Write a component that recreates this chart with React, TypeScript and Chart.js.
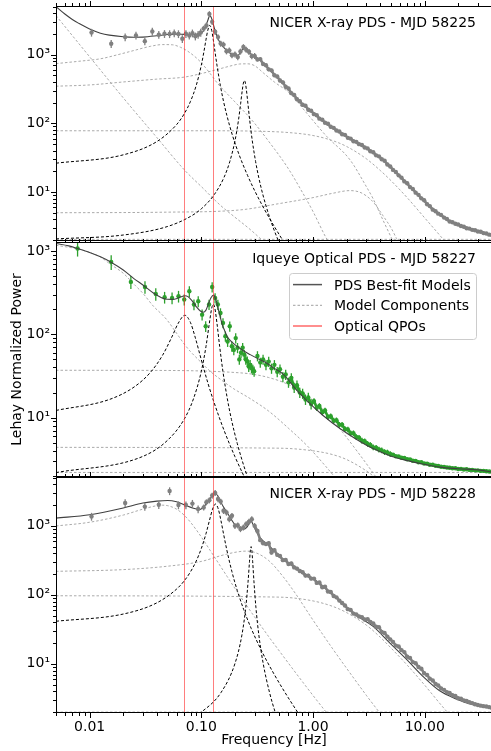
import React, { useEffect, useRef } from 'react';
import { Chart, registerables } from 'chart.js';

Chart.register(...registerables);

type Pt = [number, number];

const FONT = "'DejaVu Sans', Verdana, sans-serif";
const RED = 'rgba(255, 40, 40, 0.6)';
const MODEL_COLOR = '#404040';
const COMP_COLOR = '#a0a0a0';
const XRAY_COLOR = '#808080';
const OPT_COLOR = '#2ca02c';

// ---------- axes ----------
const X_MIN = 0.005;
const X_MAX = 40;
const X_MAJOR = [0.01, 0.1, 1, 10];
const X_TICK_LABELS = ['0.01', '0.10', '1.00', '10.00'];
const Y_MAJOR = [10, 100, 1000];
const Y_TICK_LABELS = ['10¹', '10²', '10³'];
const QPO_FREQS = [0.0697, 0.1275];
const LEGEND_LABELS = ['PDS Best-fit Models', 'Model Components', 'Optical QPOs'];

// ---------- shared high-frequency binning ----------
const HI_FREQ = [0.105,0.111,0.118,0.125,0.133,0.141,0.149,0.158,0.168,0.178,0.188,0.2,0.212,0.224,0.238,0.252,0.267,0.283,0.3,0.318,0.337,0.357,0.379,0.401,0.425,0.451,0.478,0.506,0.537,0.569,0.603,0.639,0.678,0.718,0.761,0.807,0.856,0.907,0.961,1.02,1.08,1.14,1.21,1.28,1.36,1.44,1.53,1.62,1.72,1.82,1.93,2.05,2.17,2.3,2.44,2.58,2.74,2.9,3.08,3.26,3.46,3.67,3.89,4.12,4.37,4.63,4.91,5.2,5.51,5.84,6.19,6.57,6.96,7.38,7.82,8.29,8.79,9.32,9.88,10.5,11.1,11.8,12.5,13.2,14.0,14.9,15.8,16.7,17.7,18.8,19.9,21.1,22.4,23.7,25.1,26.6,28.2,29.9,31.7,33.6,35.6,37.8,40.0];
const XR_HI_ERR = [0.1,0.1,0.1,0.1,0.1,0.1,0.1,0.1,0.1,0.1,0.1,0.1,0.1,0.1,0.1,0.1,0.1,0.1,0.1,
  0.06,0.06,0.06,0.06,0.06,0.06,0.06,0.06,0.06,0.06,0.06,0.06,0.06,0.06,0.06,0.06,0.06,0.06,0.06,0.06,
  0.045,0.045,0.045,0.045,0.045,0.045,0.045,0.045,0.045,0.045,0.045,0.045,0.045,0.045,0.045,0.045,0.045,0.045,0.045,0.045,0.045,0.045,0.045,0.045,0.045,0.045,0.045,0.045,
  0.03,0.03,0.03,0.03,0.03,0.03,0.03,0.03,0.03,0.03,0.03,0.03,0.03,0.03,0.03,0.03,0.03,0.03,0.03,0.03,0.03,0.03,0.03,0.03,0.03,0.03,0.03,0.03,0.03,0.03,0.03,0.03,0.03,0.03,0.03,0.03];

// ---------- panel 1: NICER MJD 58225 ----------
const P1_TITLE = 'NICER X-ray PDS - MJD 58225';
const P1_LOW_FREQ = [0.0104,0.0156,0.0208,0.026,0.0312,0.0364,0.0416,0.0468,0.052,0.0572,0.0624,0.0676,0.0728,0.078,0.0832,0.0884,0.0936,0.0988];
const P1_LOW_POW = [2100,1440,1800,1900,1570,2170,1950,2010,2000,2050,2000,1700,2010,1900,2050,1850,1950,2100];
const P1_LOW_ERR = [0.13,0.13,0.13,0.13,0.13,0.13,0.13,0.13,0.13,0.13,0.13,0.13,0.13,0.13,0.13,0.13,0.13,0.13];
const P1_HI_POW = [2400,2650,3900,3000,2150,1800,1450,1400,1120,1150,980,1010,920,1110,1290,1180,1100,950,960,850,860,730,700,610,590,500,480,420,395,340,322,275,258,224,210,186,180,158,153,136,131,117,113,102,98.5,89,86,78.5,76,69.5,68,61.5,60,55,53.8,49.8,48.5,44.6,43.2,39.2,37.9,34.2,33.1,30,28.6,25.2,23.6,21,19.6,17.5,16.2,14.3,13.4,11.8,11.1,9.8,9.1,8.1,7.6,6.65,6.25,5.55,5.25,4.85,4.65,4.25,4.05,3.72,3.64,3.46,3.38,3.21,3.12,2.97,2.94,2.82,2.78,2.67,2.64,2.53,2.5,2.4,2.37];
const P1_MODEL: Pt[] = [[0.005,5000],[0.006,3900],[0.007,3250],[0.008,2850],[0.01,2350],[0.0125,2050],[0.015,1920],[0.02,1820],[0.025,1790],[0.03,1800],[0.04,1880],[0.05,1960],[0.06,1990],[0.07,1970],[0.08,1950],[0.09,1960],[0.1,2050],[0.105,2250],[0.11,2650],[0.115,3250],[0.119,3700],[0.123,3450],[0.127,2900],[0.132,2300],[0.14,1750],[0.15,1420],[0.16,1250],[0.17,1150],[0.18,1060],[0.19,1000],[0.2,970],[0.21,960],[0.22,1030],[0.23,1150],[0.243,1290],[0.255,1150],[0.27,1050],[0.3,940],[0.34,820],[0.4,620],[0.5,430],[0.6,320],[0.77,205],[1,140],[1.15,118],[1.5,86],[2.14,60],[3,44],[4.24,29.4],[6,17],[8.4,9.7],[11.9,5.5],[16.8,3.75],[23.6,3],[30,2.7],[40,2.35]];
const P1_PL: Pt[] = [[0.005,3700],[0.01,930],[0.02,235],[0.04,62],[0.0705,21],[0.1,12],[0.15,6.3],[0.2,4.3],[0.274,2.85],[0.35,2.0],[0.45,1.4]];
const P1_BROAD_A: Pt[] = [[0.005,740],[0.008,800],[0.0125,870],[0.018,1000],[0.025,1150],[0.035,1320],[0.045,1400],[0.055,1390],[0.065,1280],[0.075,1130],[0.09,900],[0.1,760],[0.12,530],[0.14,380],[0.17,270],[0.2,205],[0.25,140],[0.3,100],[0.4,55],[0.6,22],[0.8,10],[1,5.2],[1.3,2.2],[1.5,1.5]];
const P1_BROAD_B: Pt[] = [[0.005,347],[0.01,362],[0.02,400],[0.04,440],[0.07,470],[0.1,530],[0.14,610],[0.18,680],[0.22,730],[0.26,735],[0.3,690],[0.36,540],[0.45,400],[0.62,273],[0.88,140],[1.32,65],[2.14,29.5],[3,12],[3.45,8],[4.2,4],[5,2.2],[6,1.2]];
const P1_BROAD_C: Pt[] = [[0.005,78],[0.1,78],[0.3,77],[0.6,73.5],[1,66.5],[1.5,56],[2,46],[3,30.5],[4,20.6],[5,14.6],[7,8.2],[10,4.2],[14,2.23],[20,1.1]];
const P1_BROAD_D: Pt[] = [[0.005,5],[0.05,5.1],[0.223,5.5],[0.5,6.8],[1,8.3],[1.5,9.6],[2.14,10.5],[2.6,10],[3,8.8],[3.5,7],[4.24,4.5],[5,3],[5.6,2.1],[7,1.1]];
const P1_CONST: Pt[] = [[0.005,2.05],[40,2.05]];
const P1_QPO1: Pt[] = [[0.005,26.3],[0.02,34.8],[0.04,54.3],[0.06,95.7],[0.07,136],[0.08,209],[0.09,356],[0.1,704],[0.105,1060],[0.11,1640],[0.114,2230],[0.119,2660],[0.124,2230],[0.128,1640],[0.133,1060],[0.138,704],[0.148,356],[0.158,209],[0.17,127],[0.19,66.8],[0.22,33.5],[0.26,17.3],[0.3,10.5],[0.35,6.46],[0.4,4.37],[0.5,2.38],[0.6,1.49]];
const P1_QPO2: Pt[] = [[0.005,2.08],[0.02,2.37],[0.05,3.16],[0.08,4.42],[0.1,5.71],[0.13,9.09],[0.16,16.5],[0.18,27.9],[0.2,55.6],[0.215,111],[0.225,196],[0.233,310],[0.238,386],[0.243,420],[0.248,386],[0.253,310],[0.261,196],[0.271,111],[0.286,55.6],[0.306,27.9],[0.326,16.5],[0.356,9.09],[0.4,4.76],[0.45,2.75],[0.5,1.79]];

// ---------- panel 2: Iqueye MJD 58227 ----------
const P2_TITLE = 'Iqueye Optical PDS - MJD 58227';
const P2_YTITLE = 'Lehay Normalized Power';
const P2_LOW_FREQ = [0.0078,0.0156,0.0234,0.0313,0.0391,0.0469,0.0547,0.0625,0.0703,0.0781,0.0859,0.0938,0.1016,0.1094,0.1172,0.125,0.1328,0.1406,0.1484,0.1563,0.1641,0.1719,0.1797,0.1875,0.1953,0.2031,0.2109,0.2188,0.2266,0.2344,0.2422,0.25,0.2578,0.2656,0.2734,0.2813,0.2891,0.2969];
const P2_LOW_POW = [1070,738,425,370,305,278,273,286,261,328,228,249,172,125,228,370,273,228,180,137,95,82,125,72,65,90,69,50,60,69,57,50,47.5,41,43,39.5,37.7,36];
const P2_LOW_ERR = [0.2,0.2,0.18,0.17,0.17,0.16,0.16,0.16,0.15,0.15,0.15,0.15,0.15,0.15,0.14,0.14,0.14,0.14,0.14,0.14,0.14,0.14,0.14,0.14,0.14,0.14,0.14,0.14,0.14,0.14,0.14,0.14,0.14,0.14,0.14,0.14,0.14,0.14];
const P2_HI_POW = [55,46,50,43,47,39,43,35.5,38,31,33,26.5,30,23,24.5,20,19.5,16.5,17.5,14.6,15.8,13.1,13.8,11.6,12.2,10.2,10.4,9.2,9.3,8.2,8.2,7.3,7.2,6.5,6.5,5.85,5.75,5.3,5.2,4.85,4.7,4.4,4.36,4.15,4.05,3.87,3.82,3.66,3.6,3.44,3.42,3.3,3.28,3.17,3.16,3.04,3.03,2.92,2.92,2.82,2.81,2.72,2.72,2.65,2.63,2.58,2.56,2.52,2.51,2.47,2.47,2.42,2.43,2.39,2.4,2.36,2.36,2.33,2.33,2.3,2.3,2.27,2.26,2.24];
const P2_HI_ERR = [0.14,0.14,0.14,0.14,0.14,0.14,0.14,0.14,0.14,0.14,0.14,0.14,0.14,0.14,0.14,0.14,0.14,0.14,0.14,0.14,
  0.08,0.08,0.08,0.08,0.08,0.08,0.08,0.08,0.08,0.08,0.08,0.08,0.08,0.08,0.08,0.08,0.08,0.08,0.08,0.08,0.08,0.08,0.08,0.08,0.08,0.08,0.08,0.08,
  0.035,0.035,0.035,0.035,0.035,0.035,0.035,0.035,0.035,0.035,0.035,0.035,0.035,0.035,0.035,0.035,0.035,0.035,0.035,0.035,0.035,0.035,0.035,0.035,0.035,0.035,0.035,0.035,0.035,0.035,0.035,0.035,0.035,0.035,0.035,0.035];
const P2_MODEL: Pt[] = [[0.005,1227],[0.0065,1150],[0.0078,1070],[0.01,960],[0.0125,850],[0.0154,738],[0.02,590],[0.0249,466],[0.03,390],[0.0375,310],[0.044,275],[0.0494,263],[0.055,262],[0.0607,269],[0.066,282],[0.071,290],[0.076,283],[0.083,250],[0.09,215],[0.098,190],[0.104,184],[0.11,195],[0.1155,230],[0.122,275],[0.129,295],[0.135,260],[0.1418,200],[0.148,160],[0.154,130],[0.162,110],[0.1696,95],[0.185,82],[0.208,72],[0.24,63],[0.274,57],[0.33,50],[0.386,45],[0.45,39],[0.543,33],[0.7,22],[0.88,16],[1.23,10.6],[1.74,7.4],[2.5,5.4],[3.45,4.25],[5,3.45],[6.84,3.07],[10,2.75],[13.5,2.55],[20,2.44],[30,2.36],[40,2.23]];
const P2_BROAD_A: Pt[] = [[0.005,1170],[0.008,1050],[0.01,960],[0.0125,845],[0.0154,690],[0.02,540],[0.0249,400],[0.03,310],[0.0375,215],[0.045,170],[0.05,145],[0.06,103],[0.0705,76],[0.08,62],[0.098,47],[0.12,36],[0.15,28.5],[0.194,22.3],[0.274,16.9],[0.4,12],[0.6,7.5],[0.9,4.5],[1.3,2.6],[1.7,1.7]];
const P2_BROAD_B: Pt[] = [[0.005,37],[0.05,36.8],[0.1,36.3],[0.2,34.8],[0.274,33.5],[0.4,30.3],[0.6,25],[0.88,18.4],[1.23,12.5],[1.7,7.6],[2.5,3.9],[3.6,2],[5,1.05]];
const P2_BROAD_C: Pt[] = [[0.005,4.4],[0.5,4.3],[1,4.0],[1.5,3.6],[2,3.14],[3,2.3],[3.45,2.0],[4,1.7],[5,1.25],[7,0.74]];
const P2_CONST: Pt[] = [[0.005,2.2],[40,2.2]];
const P2_QPO1: Pt[] = [[0.005,12.2],[0.015,16.5],[0.025,23.3],[0.035,34.9],[0.045,56.1],[0.055,95.5],[0.062,135],[0.0712,169],[0.08,138],[0.088,92.5],[0.1,49.3],[0.115,25.5],[0.13,15.2],[0.16,7.0],[0.2,3.4],[0.25,1.78]];
const P2_QPO2: Pt[] = [[0.005,2.19],[0.03,3.43],[0.05,5.37],[0.07,9.5],[0.085,16.8],[0.1,36],[0.11,71],[0.118,136],[0.124,207],[0.128,230],[0.132,207],[0.138,136],[0.146,71],[0.156,36],[0.171,16.8],[0.186,9.5],[0.21,4.87],[0.25,2.23],[0.3,1.13]];

// ---------- panel 3: NICER MJD 58228 ----------
const P3_TITLE = 'NICER X-ray PDS - MJD 58228';
const P3_LOW_FREQ = [0.0104,0.0208,0.0312,0.0416,0.052,0.0624,0.0728,0.0832,0.0936];
const P3_LOW_POW = [1365,2140,1900,2020,3200,2000,2000,2100,1750];
const P3_LOW_ERR = [0.13,0.13,0.13,0.13,0.13,0.13,0.13,0.13,0.13];
const P3_HI_POW = [1850,2200,2350,2750,3000,2450,2250,1650,1560,1250,1400,1000,1020,900,950,1060,1150,1250,1000,840,620,560,545,560,410,445,380,366,318,320,280,285,250,240,222,212,190,190,172,172,149,151,129,131,112,110,96,92,82.5,76,70,62,60.5,53.5,52,48.5,47.5,44,44.5,40.5,38.5,34.5,34,29,28,24.8,22.6,20.8,18.4,17.8,15.8,14.8,12.7,12.2,10.6,10.2,9.0,8.5,7.3,6.9,6.1,5.75,5.1,4.85,4.4,4.2,3.88,3.78,3.5,3.42,3.18,3.13,2.96,2.9,2.78,2.7,2.6,2.53,2.48,2.44,2.41,2.36,2.3];
const P3_MODEL: Pt[] = [[0.005,1295],[0.01,1445],[0.02,1810],[0.03,2140],[0.04,2280],[0.05,2330],[0.06,2230],[0.0712,2000],[0.085,1800],[0.098,1730],[0.105,1880],[0.112,2140],[0.12,2480],[0.127,2800],[0.134,2920],[0.141,2700],[0.148,2300],[0.157,1900],[0.17,1560],[0.185,1250],[0.2,1040],[0.22,950],[0.24,895],[0.255,950],[0.268,1080],[0.279,1170],[0.29,1050],[0.305,870],[0.335,675],[0.4,520],[0.54,330],[0.77,220],[1.08,158],[1.52,98],[2.46,50],[3.45,35],[4.88,20],[6.84,11.7],[9.62,6.6],[13.5,4.1],[19.1,3.1],[27,2.55],[40,2.3]];
const P3_BROAD_A: Pt[] = [[0.005,995],[0.01,1127],[0.02,1432],[0.03,1745],[0.04,1959],[0.045,1990],[0.05,1959],[0.06,1745],[0.07,1432],[0.08,1127],[0.09,878],[0.1,689],[0.12,440],[0.14,300],[0.17,185],[0.2,124],[0.25,73],[0.3,47.8],[0.4,24.9],[0.5,15.3],[0.7,7.4],[1,3.48],[1.3,2.03],[1.6,1.34]];
const P3_BROAD_B: Pt[] = [[0.005,219],[0.02,232],[0.05,260],[0.1,305],[0.15,370],[0.2,413],[0.25,430],[0.3,413],[0.4,315],[0.54,183],[0.7,103],[1,43],[1.5,16.5],[2,8.6],[3,3.5],[4,1.9]];
const P3_BROAD_C: Pt[] = [[0.005,97],[0.5,92.6],[1,81.6],[1.5,68],[2,55.2],[3,36.4],[4,24.3],[5,16.9],[7,9.5],[10,4.9],[14,2.54],[20,1.3],[30,0.57]];
const P3_CONST: Pt[] = [[0.005,2.0],[40,2.0]];
const P3_QPO1: Pt[] = [[0.005,41.4],[0.02,52.7],[0.04,76.6],[0.06,121],[0.07,158],[0.08,216],[0.09,309],[0.1,470],[0.11,767],[0.118,1180],[0.126,1741],[0.134,2070],[0.142,1741],[0.15,1180],[0.158,767],[0.168,470],[0.178,309],[0.188,216],[0.198,158],[0.21,115],[0.24,60.7],[0.28,32.4],[0.35,14.9],[0.45,7.0],[0.6,3.23],[0.75,1.85]];
const P3_QPO2: Pt[] = [[0.08,1.6],[0.1,2.0],[0.15,3.84],[0.2,10.1],[0.23,25.4],[0.25,66],[0.262,154],[0.27,307],[0.275,445],[0.279,500],[0.283,445],[0.288,307],[0.296,154],[0.308,66],[0.328,25.4],[0.358,10.1],[0.408,3.84],[0.458,2.0],[0.55,0.87]];

interface Panel {
  title: string;
  yMin: number;
  yMax: number;
  freq: number[];
  pow: number[];
  err: number[];
  bandFrom: number;
  color: string;
  model: Pt[];
  modelOnTop: boolean;
  comps: Pt[][];
  qpos: Pt[][];
  legend: boolean;
  yTitle: string | null;
  xAxis: boolean;
}

const PANELS: Panel[] = [
  {
    title: P1_TITLE, yMin: 1.94, yMax: 5100,
    freq: [...P1_LOW_FREQ, ...HI_FREQ], pow: [...P1_LOW_POW, ...P1_HI_POW], err: [...P1_LOW_ERR, ...XR_HI_ERR],
    bandFrom: 0.3, color: XRAY_COLOR, model: P1_MODEL, modelOnTop: false,
    comps: [P1_PL, P1_BROAD_A, P1_BROAD_B, P1_BROAD_C, P1_BROAD_D, P1_CONST],
    qpos: [P1_QPO1, P1_QPO2], legend: false, yTitle: null, xAxis: false,
  },
  {
    title: P2_TITLE, yMin: 1.94, yMax: 1280,
    freq: [...P2_LOW_FREQ, ...HI_FREQ.slice(19)], pow: [...P2_LOW_POW, ...P2_HI_POW], err: [...P2_LOW_ERR, ...P2_HI_ERR],
    bandFrom: 0.6, color: OPT_COLOR, model: P2_MODEL, modelOnTop: true,
    comps: [P2_BROAD_A, P2_BROAD_B, P2_BROAD_C, P2_CONST],
    qpos: [P2_QPO1, P2_QPO2], legend: true, yTitle: P2_YTITLE, xAxis: false,
  },
  {
    title: P3_TITLE, yMin: 1.94, yMax: 5100,
    freq: [...P3_LOW_FREQ, ...HI_FREQ], pow: [...P3_LOW_POW, ...P3_HI_POW], err: [...P3_LOW_ERR, ...XR_HI_ERR],
    bandFrom: 0.3, color: XRAY_COLOR, model: P3_MODEL, modelOnTop: false,
    comps: [P3_BROAD_A, P3_BROAD_B, P3_BROAD_C, P3_CONST],
    qpos: [P3_QPO1, P3_QPO2], legend: false, yTitle: null, xAxis: true,
  },
];

const errorBarPlugin = {
  id: 'errorBars',
  beforeDatasetDraw(chart: any, args: any) {
    const ds: any = chart.data.datasets[args.index];
    if (!ds.errRel) return;
    const { ctx, chartArea: a } = chart;
    const xs = chart.scales.x;
    const ys = chart.scales.y;
    ctx.save();
    ctx.beginPath();
    ctx.rect(a.left, a.top, a.right - a.left, a.bottom - a.top);
    ctx.clip();
    ctx.strokeStyle = ds.pointBackgroundColor;
    ctx.lineWidth = 1.3;
    ds.data.forEach((pt: any, i: number) => {
      const e = ds.errRel[i];
      const px = xs.getPixelForValue(pt.x);
      ctx.beginPath();
      ctx.moveTo(px, ys.getPixelForValue(pt.y * (1 + e)));
      ctx.lineTo(px, ys.getPixelForValue(pt.y * (1 - e)));
      ctx.stroke();
    });
    ctx.restore();
  },
};

function decorPlugin(p: Panel) {
  return {
    id: 'decor',
    afterDatasetsDraw(chart: any) {
      const { ctx, chartArea: a } = chart;
      const xs = chart.scales.x;
      ctx.save();
      ctx.strokeStyle = RED;
      ctx.lineWidth = 1;
      for (const f of QPO_FREQS) {
        const px = Math.round(xs.getPixelForValue(f)) + 0.5;
        ctx.beginPath();
        ctx.moveTo(px, a.top);
        ctx.lineTo(px, a.bottom);
        ctx.stroke();
      }
      ctx.restore();
    },
    afterDraw(chart: any) {
      const { ctx, chartArea: a } = chart;
      const xs = chart.scales.x;
      const ys = chart.scales.y;
      ctx.save();
      ctx.strokeStyle = '#000';
      ctx.lineWidth = 1;
      ctx.beginPath();
      ctx.moveTo(a.left + 0.5, a.top);
      ctx.lineTo(a.left + 0.5, a.bottom);
      ctx.moveTo(a.left, a.top + 0.5);
      ctx.lineTo(a.right, a.top + 0.5);
      ctx.moveTo(a.left, a.bottom - 0.5);
      ctx.lineTo(a.right, a.bottom - 0.5);
      ctx.stroke();
      ctx.beginPath();
      for (let e = -3; e <= 1; e++) {
        for (let k = 1; k <= 9; k++) {
          const v = k * Math.pow(10, e);
          if (v < X_MIN * 0.999 || v > X_MAX * 1.001) continue;
          const px = Math.round(xs.getPixelForValue(v)) + 0.5;
          const len = k === 1 ? 5 : 3;
          ctx.moveTo(px, a.top);
          ctx.lineTo(px, a.top - len);
          if (p.xAxis) {
            ctx.moveTo(px, a.bottom);
            ctx.lineTo(px, a.bottom + len);
          }
        }
      }
      for (let e = 0; e <= 3; e++) {
        for (let k = 1; k <= 9; k++) {
          const v = k * Math.pow(10, e);
          if (v < p.yMin || v > p.yMax) continue;
          const py = Math.round(ys.getPixelForValue(v)) + 0.5;
          const len = k === 1 ? 5 : 3;
          ctx.moveTo(a.left, py);
          ctx.lineTo(a.left - len, py);
        }
      }
      ctx.stroke();
      ctx.font = `14px ${FONT}`;
      ctx.fillStyle = '#000';
      ctx.textAlign = 'right';
      ctx.textBaseline = 'alphabetic';
      ctx.fillText(p.title, a.right - 16, a.top + 21);
      if (p.legend) {
        const bw = 187;
        const bh = 66;
        const bx = a.right - 16 - bw;
        const by = a.top + 31;
        ctx.beginPath();
        ctx.roundRect(bx + 0.5, by + 0.5, bw, bh, 3);
        ctx.fillStyle = 'rgba(255,255,255,0.8)';
        ctx.fill();
        ctx.strokeStyle = '#cccccc';
        ctx.stroke();
        const styles = [
          { c: '#555555', w: 1.5, d: [] as number[] },
          { c: COMP_COLOR, w: 1, d: [2.5, 2] },
          { c: 'rgba(255,40,40,0.7)', w: 1.5, d: [] as number[] },
        ];
        LEGEND_LABELS.forEach((lab, i) => {
          const cy = by + 11.6 + i * 20.7;
          ctx.beginPath();
          ctx.setLineDash(styles[i].d);
          ctx.strokeStyle = styles[i].c;
          ctx.lineWidth = styles[i].w;
          ctx.moveTo(bx + 4, cy);
          ctx.lineTo(bx + 33, cy);
          ctx.stroke();
          ctx.setLineDash([]);
          ctx.fillStyle = '#000';
          ctx.textAlign = 'left';
          ctx.fillText(lab, bx + 45, cy + 5);
        });
      }
      ctx.restore();
    },
  };
}

function makeChart(canvas: HTMLCanvasElement, p: Panel, padBottom: number) {
  const toXY = (pts: Pt[]) => pts.map(([x, y]) => ({ x, y }));
  const datasets: any[] = [];
  datasets.push({
    data: toXY(p.model), borderColor: MODEL_COLOR, borderWidth: 1.1, pointRadius: 0,
    cubicInterpolationMode: 'monotone', order: p.modelOnTop ? 0 : 1.5, clip: 0,
  });
  datasets.push({
    data: p.freq.map((f, i) => ({ x: f, y: p.pow[i] })), showLine: true, tension: 0,
    borderWidth: 2.6, borderColor: p.color,
    segment: { borderColor: (c: any) => (c.p0.parsed.x >= p.bandFrom ? undefined : 'rgba(0,0,0,0)') },
    pointRadius: 2.2, pointBackgroundColor: p.color, pointBorderWidth: 0, backgroundColor: p.color,
    order: 1, clip: 0, errRel: p.err,
  });
  p.qpos.forEach((q) => datasets.push({
    data: toXY(q), borderColor: '#000', borderWidth: 1, borderDash: [3, 2], pointRadius: 0,
    cubicInterpolationMode: 'monotone', order: 2, clip: 0,
  }));
  p.comps.forEach((c) => datasets.push({
    data: toXY(c), borderColor: COMP_COLOR, borderWidth: 0.9, borderDash: [2.5, 2], pointRadius: 0,
    cubicInterpolationMode: 'monotone', order: 3, clip: 0,
  }));

  const font = { family: FONT, size: 14 };
  return new Chart(canvas, {
    type: 'line',
    data: { datasets },
    plugins: [errorBarPlugin, decorPlugin(p)],
    options: {
      animation: false,
      responsive: false,
      events: [],
      layout: { autoPadding: false, padding: { left: 0, right: 0, top: 6, bottom: padBottom } },
      plugins: { legend: { display: false }, tooltip: { enabled: false }, title: { display: false } },
      scales: {
        x: {
          type: 'logarithmic', min: X_MIN, max: X_MAX, display: p.xAxis,
          afterBuildTicks: (s: any) => { s.ticks = X_MAJOR.map((v) => ({ value: v })); },
          afterFit: (s: any) => {
            s.height = p.xAxis ? 38 : 0;
            s.paddingLeft = 0; s.paddingRight = 0; s.paddingTop = 0; s.paddingBottom = 0;
          },
          grid: { display: false, drawTicks: false }, border: { display: false },
          ticks: { font, color: '#000', padding: 6, autoSkip: false, maxRotation: 0,
            callback: (_v: any, i: number) => X_TICK_LABELS[i] },
          title: { display: true, text: 'Frequency [Hz]', font, color: '#000', padding: { top: 0, bottom: 2 } },
        },
        y: {
          type: 'logarithmic', min: p.yMin, max: p.yMax,
          afterBuildTicks: (s: any) => { s.ticks = Y_MAJOR.map((v) => ({ value: v })); },
          afterFit: (s: any) => {
            s.width = 56;
            s.paddingTop = 0; s.paddingBottom = 0; s.paddingLeft = 0; s.paddingRight = 0;
          },
          grid: { display: false, drawTicks: false }, border: { display: false },
          ticks: { font, color: '#000', padding: 6, autoSkip: false,
            callback: (_v: any, i: number) => Y_TICK_LABELS[i] },
          title: { display: !!p.yTitle, text: p.yTitle || '', font, color: '#000', padding: { top: 9, bottom: 0 } },
        },
      },
    } as any,
  });
}

export default function App() {
  const r1 = useRef<HTMLCanvasElement>(null);
  const r2 = useRef<HTMLCanvasElement>(null);
  const r3 = useRef<HTMLCanvasElement>(null);
  useEffect(() => {
    document.body.style.margin = '0';
    const charts = [
      makeChart(r1.current as HTMLCanvasElement, PANELS[0], 1),
      makeChart(r2.current as HTMLCanvasElement, PANELS[1], 1),
      makeChart(r3.current as HTMLCanvasElement, PANELS[2], 0),
    ];
    return () => charts.forEach((c) => c.destroy());
  }, []);
  return (
    <div style={{ position: 'fixed', left: 0, top: 0, width: 491, height: 751, overflow: 'hidden', background: '#fff' }}>
      <canvas ref={r1} width={492} height={242} style={{ position: 'absolute', left: 0, top: 0, width: 492, height: 242 }} />
      <canvas ref={r2} width={492} height={242} style={{ position: 'absolute', left: 0, top: 236, width: 492, height: 242 }} />
      <canvas ref={r3} width={492} height={280} style={{ position: 'absolute', left: 0, top: 471, width: 492, height: 280 }} />
    </div>
  );
}
